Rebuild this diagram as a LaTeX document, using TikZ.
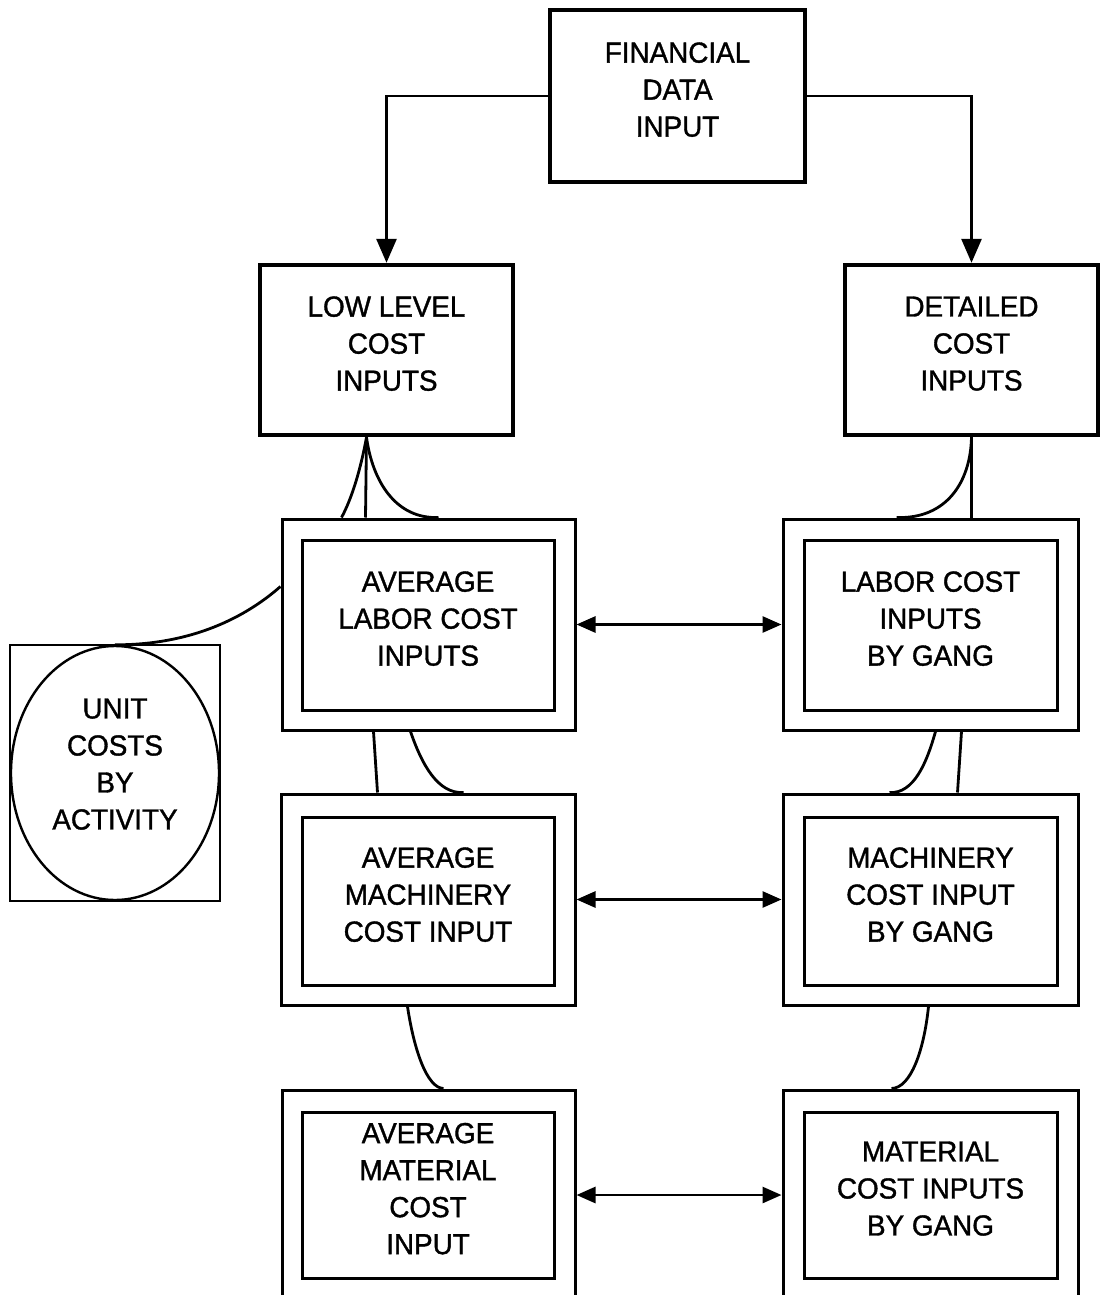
\documentclass[tikz,border=0pt]{standalone}
\usepackage{fontspec}
\setmainfont{Liberation Sans}[FakeStretch=0.96,FakeBold=1.2]
\usetikzlibrary{arrows.meta,calc,shapes.geometric}
\begin{document}
\begin{tikzpicture}[x=1pt,y=-1pt,
  lbl/.style={font=\fontsize{29}{37}\selectfont, align=center, text depth=13pt},
  heavy/.style={draw, line width=4.4pt, rectangle, inner sep=0pt, lbl},
  outerbox/.style={draw, line width=3pt, rectangle, inner sep=0pt},
  innerbox/.style={draw, line width=3pt, rectangle, inner sep=0pt, lbl},
  link/.style={line width=2.8pt},
  flow/.style={link, -{Triangle[length=24pt,width=20pt]}},
  both/.style={link, {Triangle[length=19pt,width=16pt]}-{Triangle[length=19pt,width=16pt]}},
]
\useasboundingbox (0,0) rectangle (1100,1295);
\clip (0,0) rectangle (1100,1295);

% top level
\node[heavy, minimum width=255pt, minimum height=172pt] (fin) at (677.5,96) {FINANCIAL\\DATA\\INPUT};
\node[heavy, minimum width=253pt, minimum height=170pt] (low) at (386.5,350) {LOW LEVEL\\COST\\INPUTS};
\node[heavy, minimum width=253pt, minimum height=170pt] (det) at (971.5,350) {DETAILED\\COST\\INPUTS};

% left column: averaged inputs
\node[outerbox, minimum width=293pt, minimum height=211pt] (L1o) at (428.5,624.5) {};
\node[innerbox, minimum width=252pt, minimum height=170pt] (L1i) at (428,625) {AVERAGE\\LABOR COST\\INPUTS};
\node[outerbox, minimum width=294pt, minimum height=211pt] (L2o) at (428,899.5) {};
\node[innerbox, minimum width=252pt, minimum height=168pt] (L2i) at (428,901) {AVERAGE\\MACHINERY\\COST INPUT};
\node[outerbox, minimum width=293pt, minimum height=230pt] (L3o) at (428.5,1205) {};
\node[innerbox, minimum width=252pt, minimum height=166pt] (L3i) at (428,1195) {AVERAGE\\MATERIAL\\COST\\INPUT};

% right column: inputs by gang
\node[outerbox, minimum width=295pt, minimum height=211pt] (R1o) at (930.5,624.5) {};
\node[innerbox, minimum width=253pt, minimum height=170pt] (R1i) at (930.5,625) {LABOR COST\\INPUTS\\BY GANG};
\node[outerbox, minimum width=295pt, minimum height=211pt] (R2o) at (930.5,899.5) {};
\node[innerbox, minimum width=253pt, minimum height=168pt] (R2i) at (930.5,901) {MACHINERY\\COST INPUT\\BY GANG};
\node[outerbox, minimum width=295pt, minimum height=230pt] (R3o) at (930.5,1205) {};
\node[innerbox, minimum width=253pt, minimum height=166pt] (R3i) at (930.5,1195) {MATERIAL\\COST INPUTS\\BY GANG};

% unit costs
\node[draw, line width=2.4pt, rectangle, minimum width=210pt, minimum height=256pt, inner sep=0pt] (unitsq) at (115,773) {};
\node[draw, line width=2.4pt, ellipse, minimum width=208pt, minimum height=254pt, inner sep=0pt, lbl, text depth=18pt] (unit) at (115,773) {UNIT\\COSTS\\BY\\ACTIVITY};

% data flow from the top
\draw[flow] (fin.west) -| (low.north);
\draw[flow] (fin.east) -| (det.north);

% low level inputs to averaged labor
\coordinate (lj) at ($(low.south)+(-20,0)$);
\draw[link] (lj) -- ($(L1o.north west)+(85,0)$);
\draw[link] (lj) .. controls ($(lj)+(-6,33)$) and ($(lj)+(-15,62)$) .. ($(L1o.north west)+(61,0)$);
\draw[link] (lj) .. controls ($(lj)+(6,45)$) and ($(lj)+(30,82)$) .. ($(L1o.north west)+(158,0)$);

% detailed inputs to labor by gang
\draw[link] (det.south) -- (det.south |- R1o.north);
\draw[link] (det.south) .. controls ($(det.south)+(-1,45)$) and ($(det.south)+(-25,82)$) .. ($(R1o.north west)+(115,0)$);

% labor to unit costs
\draw[link] ($(L1o.north west)+(0,69)$) .. controls (240,622) and (185,645) .. (unit.north);

% links between rows, left
\draw[link] ($(L1o.south west)+(93,0)$) -- ($(L2o.north west)+(98,0)$);
\draw[link] ($(L1o.south west)+(130,0)$) .. controls (422,765) and (438,794) .. ($(L2o.north west)+(184,0)$);
\draw[link] ($(L2o.south west)+(128,0)$) .. controls (414,1050) and (427,1088) .. ($(L3o.north west)+(163,0)$);

% links between rows, right
\draw[link] ($(R1o.south west)+(154,0)$) .. controls (927,762) and (914,794) .. ($(R2o.north west)+(108,0)$);
\draw[link] ($(R1o.south west)+(180,0)$) -- ($(R2o.north west)+(176,0)$);
\draw[link] ($(R2o.south west)+(147,0)$) .. controls (924,1050) and (911,1088) .. ($(R3o.north west)+(110,0)$);

% two-way links between the columns
\draw[both] (L1o.east) -- (R1o.west);
\draw[both] (L2o.east) -- (R2o.west);
\draw[both] (L3i.east -| L3o.east) -- (R3i.west -| R3o.west);
\end{tikzpicture}
\end{document}
